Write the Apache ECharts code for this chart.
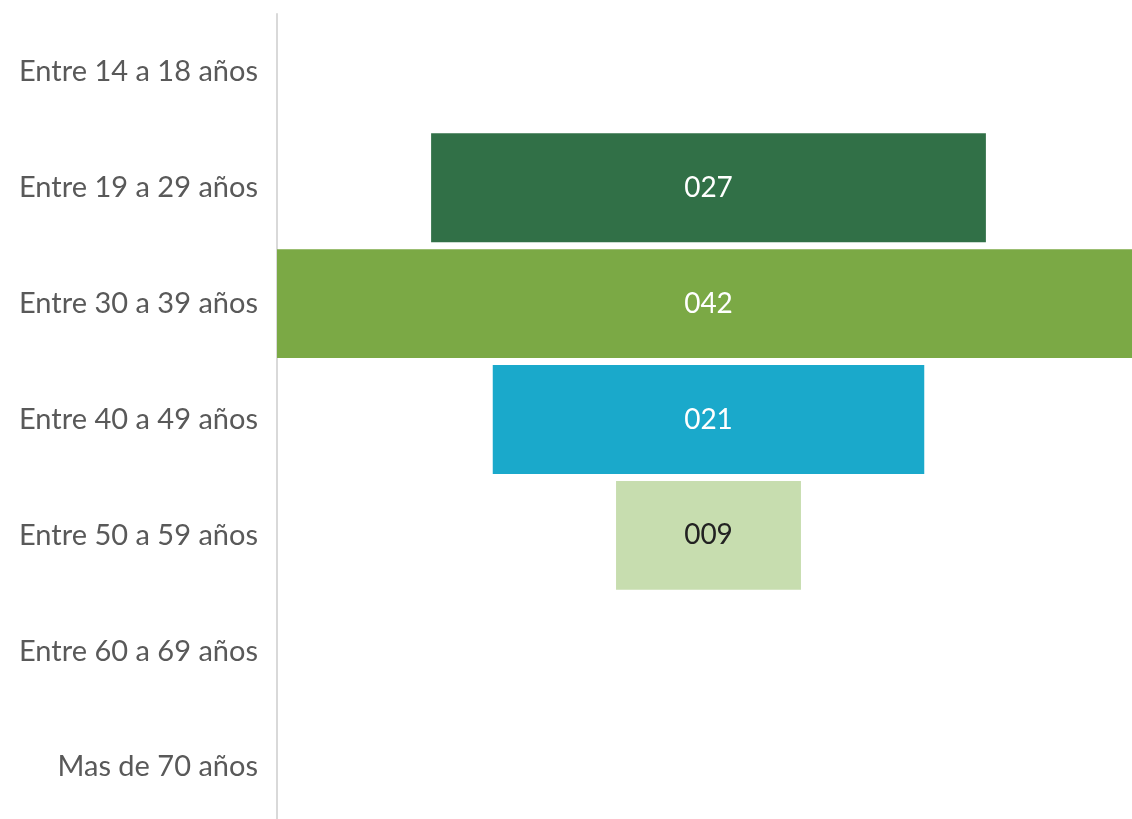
<!DOCTYPE html>
<html><head><meta charset="utf-8">
<script src="https://cdn.jsdelivr.net/npm/echarts@6/dist/echarts.min.js"></script>
<style>html,body{margin:0;padding:0;background:#fff;overflow:hidden;width:1132px;height:819px}#c{width:1140px;height:825px}</style>
</head><body><div id="c"></div>
<script>
const categories = ['Entre 14 a 18 años','Entre 19 a 29 años','Entre 30 a 39 años','Entre 40 a 49 años','Entre 50 a 59 años','Entre 60 a 69 años','Mas de 70 años'];
const values = [0, 27, 42, 21, 9, 0, 0];
const colors = ['#317047','#317047','#7BA945','#1AA9CB','#C7DDAF','#317047','#317047'];
const labelColors = ['#fff','#fff','#fff','#fff','#222','#fff','#fff'];
const maxVal = Math.max(...values);
const offsets = values.map(v => (maxVal - v) / 2);

const chart = echarts.init(document.getElementById('c'));
chart.setOption({
  animation: false,
  grid: {left: 277, right: 0, top: 14, bottom: 0, containLabel: false},
  xAxis: {type: 'value', min: 0, max: maxVal, show: false},
  yAxis: {
    type: 'category', data: categories, inverse: true,
    axisLine: {show: true, lineStyle: {color: '#d9d9d9', width: 2}},
    axisTick: {show: false},
    axisLabel: {color: '#595959', fontSize: 29, fontFamily: 'Lato', margin: 19}
  },
  series: [
    {type: 'bar', stack: 's', data: offsets, itemStyle: {color: 'transparent'}, silent: true, barCategoryGap: '6%'},
    {type: 'bar', stack: 's', barCategoryGap: '6%',
     data: values.map((v, i) => ({value: v, itemStyle: {color: colors[i]},
       label: {show: v > 0, color: labelColors[i]}})),
     label: {position: 'inside', fontSize: 28, fontFamily: 'Lato',
       formatter: p => String(p.value).padStart(3, '0')}}
  ]
});
</script></body></html>
